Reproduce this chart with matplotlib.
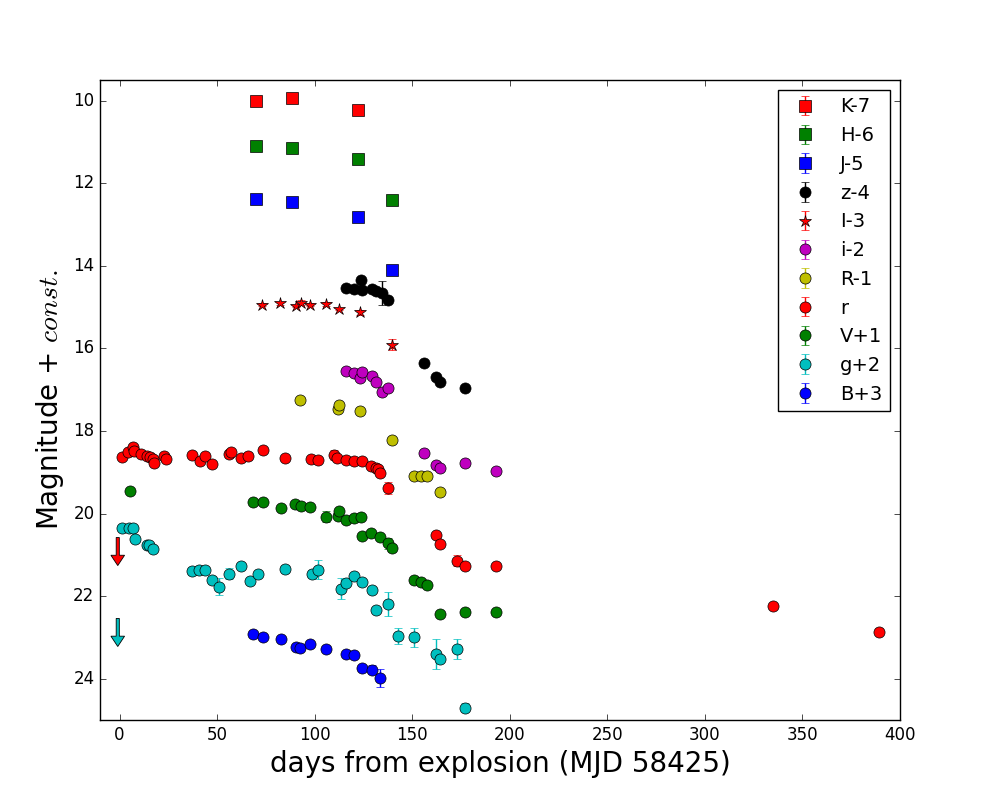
import numpy as np
import matplotlib
matplotlib.use('Agg')
import matplotlib.pyplot as plt

plt.style.use('classic')

# NIR photometry (shifted)
K_t = [69.8, 88.2, 122.0]
K_m = [10.02, 9.93, 10.23]
H_t = [69.8, 88.2, 122.0, 139.4]
H_m = [11.10, 11.15, 11.41, 12.40]
J_t = [69.8, 88.2, 122.0, 139.4]
J_m = [12.38, 12.45, 12.81, 14.10]

# optical
z_t = [116.2, 120.0, 123.8, 124.4, 129.2, 131.6, 134.7, 137.4, 156.2, 162.3, 164.0, 177.3]
z_m = [14.54, 14.57, 14.34, 14.58, 14.57, 14.62, 14.65, 14.83, 16.35, 16.70, 16.81, 16.95]
z_e = [0.03, 0.03, 0.03, 0.03, 0.03, 0.03, 0.29, 0.08, 0.03, 0.08, 0.03, 0.03]

I_t = [73.2, 82.4, 90.3, 93.0, 97.4, 105.6, 112.3, 123.4, 139.4]
I_m = [14.94, 14.91, 14.97, 14.89, 14.94, 14.92, 15.04, 15.13, 15.91]
I_e = [0.03, 0.03, 0.03, 0.05, 0.04, 0.05, 0.03, 0.07, 0.14]

i_t = [116.2, 120.0, 123.4, 124.1, 129.2, 131.2, 134.3, 137.4, 156.2, 162.3, 164.0, 177.3, 193.0]
i_m = [16.54, 16.59, 16.71, 16.56, 16.66, 16.81, 17.05, 16.97, 18.53, 18.83, 18.89, 18.77, 18.96]
i_e = [0.03, 0.03, 0.03, 0.03, 0.03, 0.03, 0.10, 0.03, 0.03, 0.08, 0.03, 0.03, 0.03]

R_t = [92.7, 111.8, 112.5, 123.4, 139.4, 151.0, 154.5, 157.5, 164.0]
R_m = [17.24, 17.46, 17.38, 17.51, 18.22, 19.10, 19.10, 19.10, 19.47]
R_e = [0.03, 0.03, 0.03, 0.03, 0.03, 0.03, 0.07, 0.03, 0.03]

r_t = [1.5, 4.6, 6.8, 7.3, 10.8, 14.2, 15.5, 17.1, 17.6, 22.7, 23.7,
       36.9, 41.1, 43.7, 47.6, 56.0, 57.0, 62.5, 65.7, 73.4, 84.6, 98.3,
       101.5, 109.7, 111.5, 116.2, 120.0, 124.1, 128.9, 131.2, 132.3, 133.3,
       137.4, 162.3, 164.0, 173.2, 177.3, 193.0, 334.9, 389.1]
r_m = [18.64, 18.52, 18.39, 18.49, 18.56, 18.60, 18.62, 18.68, 18.77, 18.61, 18.68,
       18.57, 18.73, 18.60, 18.80, 18.55, 18.51, 18.65, 18.60, 18.46, 18.65, 18.68,
       18.70, 18.59, 18.65, 18.70, 18.72, 18.72, 18.85, 18.90, 18.92, 19.02,
       19.38, 20.53, 20.73, 21.14, 21.27, 21.28, 22.25, 22.86]
r_e = [0.03, 0.03, 0.03, 0.03, 0.03, 0.03, 0.03, 0.03, 0.03, 0.03, 0.03,
       0.03, 0.03, 0.03, 0.03, 0.10, 0.03, 0.03, 0.10, 0.03, 0.03, 0.03,
       0.03, 0.12, 0.03, 0.03, 0.03, 0.03, 0.03, 0.03, 0.03, 0.03,
       0.14, 0.03, 0.03, 0.14, 0.03, 0.03, 0.03, 0.08]

V_t = [5.6, 68.6, 73.4, 82.6, 90.1, 92.8, 97.4, 105.6, 111.8, 112.5, 116.2,
       120.0, 123.6, 124.1, 129.0, 133.3, 137.4, 139.4, 151.0, 154.5, 157.5,
       164.0, 177.3, 193.0]
V_m = [19.45, 19.71, 19.73, 19.86, 19.78, 19.81, 19.83, 20.08, 20.06, 19.94, 20.15,
       20.10, 20.08, 20.54, 20.48, 20.56, 20.72, 20.83, 21.61, 21.66, 21.73,
       22.43, 22.38, 22.38]
V_e = [0.03, 0.03, 0.03, 0.03, 0.03, 0.03, 0.03, 0.13, 0.03, 0.03, 0.03,
       0.03, 0.03, 0.03, 0.03, 0.03, 0.13, 0.10, 0.05, 0.05, 0.08,
       0.03, 0.03, 0.05]

g_t = [1.5, 5.1, 6.8, 7.7, 14.2, 15.2, 17.1, 36.9, 40.8, 43.7, 47.6, 50.9,
       56.0, 62.5, 66.7, 70.8, 84.6, 98.5, 101.5, 113.3, 116.2, 120.0, 124.1,
       129.2, 131.2, 137.4, 142.5, 150.7, 162.3, 164.0, 173.2, 177.3]
g_m = [20.34, 20.36, 20.35, 20.61, 20.77, 20.75, 20.87, 21.39, 21.36, 21.36, 21.61, 21.77,
       21.46, 21.28, 21.63, 21.46, 21.34, 21.46, 21.36, 21.82, 21.69, 21.51, 21.65,
       21.85, 22.33, 22.19, 22.96, 23.00, 23.40, 23.52, 23.28, 24.70]
g_e = [0.03, 0.03, 0.03, 0.03, 0.03, 0.03, 0.03, 0.10, 0.03, 0.03, 0.10, 0.20,
       0.13, 0.03, 0.03, 0.03, 0.10, 0.10, 0.23, 0.25, 0.03, 0.03, 0.03,
       0.03, 0.03, 0.30, 0.20, 0.22, 0.36, 0.03, 0.25, 0.10]

B_t = [68.6, 73.4, 82.6, 90.3, 92.7, 97.4, 105.8, 116.2, 120.0, 124.1, 129.2, 133.3]
B_m = [22.91, 22.99, 23.05, 23.23, 23.26, 23.17, 23.28, 23.39, 23.42, 23.73, 23.78, 23.98]
B_e = [0.03, 0.03, 0.03, 0.03, 0.03, 0.03, 0.03, 0.03, 0.03, 0.03, 0.10, 0.22]

# upper limits drawn as arrows (day, mag from, mag to)
lim_t = [-0.9, -0.9]
lim_top = [20.58, 22.54]
lim_bot = [21.26, 23.22]
lim_col = ['r', 'c']

fig = plt.figure(figsize=(10, 8), dpi=100)
ax = fig.add_subplot(111)
fig.subplots_adjust(left=0.1, right=0.9, bottom=0.1, top=0.9)

zero = lambda n: np.zeros(n) + 0.03

ax.errorbar(K_t, K_m, yerr=zero(len(K_t)), fmt='s', color='r', ecolor='r', mec='k', ms=8, label='K-7')
ax.errorbar(H_t, H_m, yerr=zero(len(H_t)), fmt='s', color='g', ecolor='g', mec='k', ms=8, label='H-6')
ax.errorbar(J_t, J_m, yerr=zero(len(J_t)), fmt='s', color='b', ecolor='b', mec='k', ms=8, label='J-5')
ax.errorbar(z_t, z_m, yerr=z_e, fmt='o', color='k', ecolor='k', mec='k', ms=8, label='z-4')
ax.errorbar(I_t, I_m, yerr=I_e, fmt='*', color='r', ecolor='r', mec='k', ms=9, label='I-3')
ax.errorbar(i_t, i_m, yerr=i_e, fmt='o', color='m', ecolor='m', mec='k', ms=8, label='i-2')
ax.errorbar(R_t, R_m, yerr=R_e, fmt='o', color='y', ecolor='y', mec='k', ms=8, label='R-1')
ax.errorbar(r_t, r_m, yerr=r_e, fmt='o', color='r', ecolor='r', mec='k', ms=8, label='r')
ax.errorbar(V_t, V_m, yerr=V_e, fmt='o', color='g', ecolor='g', mec='k', ms=8, label='V+1')
ax.errorbar(g_t, g_m, yerr=g_e, fmt='o', color='c', ecolor='c', mec='k', ms=8, label='g+2')
ax.errorbar(B_t, B_m, yerr=B_e, fmt='o', color='b', ecolor='b', mec='k', ms=8, label='B+3')

for t0, m1, m2, c in zip(lim_t, lim_top, lim_bot, lim_col):
    ax.arrow(t0, m1, 0, m2 - m1 - 0.25, width=1.6, head_width=7, head_length=0.25,
             fc=c, ec='k', lw=0.6, length_includes_head=False)

ax.set_xlim(-10, 400)
ax.set_ylim(25, 9.5)
ax.set_yticks([10, 12, 14, 16, 18, 20, 22, 24])
ax.set_xlabel('days from explosion (MJD 58425)', fontsize=20)
ax.set_ylabel('Magnitude + $const.$', fontsize=20)
ax.legend(loc='upper right', numpoints=1, fontsize=14)

plt.savefig('out.png', dpi=100)
